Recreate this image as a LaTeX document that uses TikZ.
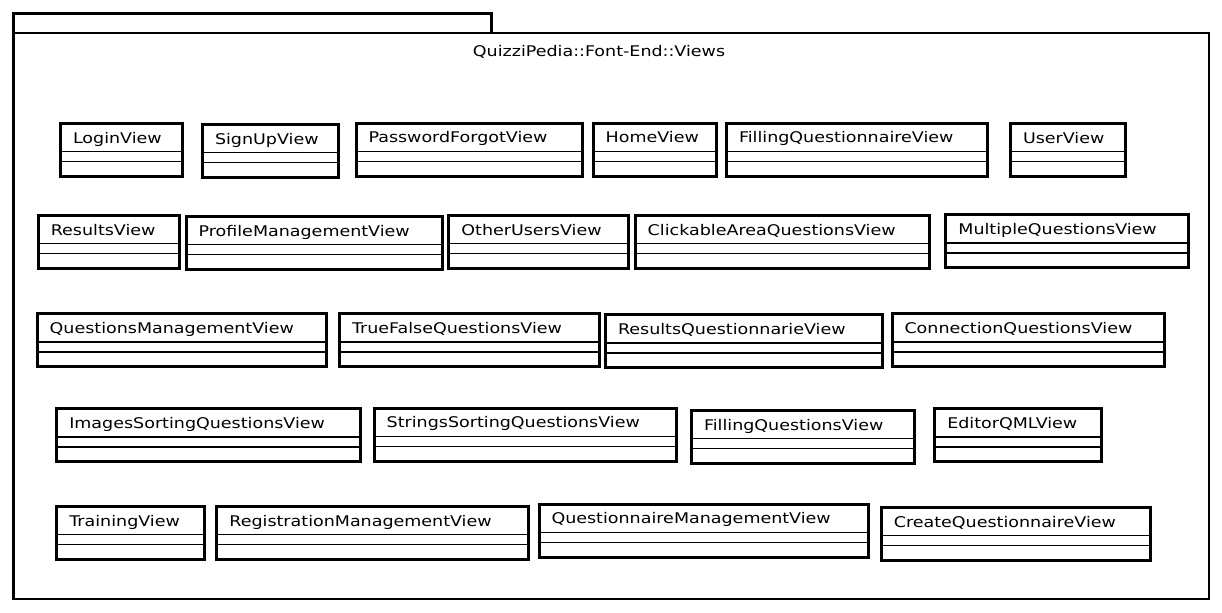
\documentclass[tikz,border=0pt]{standalone}
\usepackage{fontspec}
\setmainfont{DejaVu Sans}[FakeStretch=1.19]

\begin{document}
\begin{tikzpicture}[x=0.5pt,y=-0.5pt,
  every node/.style={font=\fontsize{7.35pt}{9pt}\selectfont},
  pkgline/.style={draw=black,line width=1.3pt},
  classbox/.style={draw=black,line width=1.5pt,anchor=north west,inner xsep=6.25pt,inner ysep=0pt,
    text height=9.75pt,text depth=16.75pt,align=left},
  compline/.style={draw=black,line width=0.7pt}]
\useasboundingbox (0,0) rectangle (1222,612);
% package frame
\draw [pkgline] (13.5,13.5) rectangle (491.5,33);
\draw [pkgline] (13.5,33) rectangle (1209,599);
\node [anchor=base] (title) at (599,56.7) {QuizziPedia::Font-End::Views};
% row 1
\node [classbox,text width=48.5pt] (loginview) at (59,122) {LoginView};
\node [classbox,text width=55.5pt] (signupview) at (201,123) {SignUpView};
\node [classbox,text width=100.5pt] (passwordview) at (354.5,121.7) {PasswordForgotView};
\node [classbox,text width=49pt] (homeview) at (591.7,121.7) {HomeView};
\node [classbox,text width=118pt] (fillingqview) at (725,121.7) {FillingQuestionnaireView};
\node [classbox,text width=45pt] (userview) at (1009,122) {UserView};
% row 2
\node [classbox,text width=58pt] (resultsview) at (36.8,214) {ResultsView};
\node [classbox,text width=115.5pt] (profileview) at (184.6,215) {ProfileManagementView};
\node [classbox,text width=77.5pt] (otherusersview) at (447.4,214) {OtherUsersView};
\node [classbox,text width=134.8pt] (clickableview) at (633.7,214) {ClickableAreaQuestionsView};
\node [classbox,text width=108.8pt] (multipleview) at (944.4,213.3) {MultipleQuestionsView};
% row 3
\node [classbox,text width=132pt] (questionsmgmtview) at (35.7,312.3) {QuestionsManagementView};
\node [classbox,text width=117.4pt] (truefalseview) at (338,312.3) {TrueFalseQuestionsView};
\node [classbox,text width=125.85pt] (resultsqview) at (604,313.3) {ResultsQuestionnarieView};
\node [classbox,text width=123.5pt] (connectionview) at (890.5,312.3) {ConnectionQuestionsView};
% row 4
\node [classbox,text width=139.2pt] (imagessortview) at (55.3,407.3) {ImagesSortingQuestionsView};
\node [classbox,text width=138.75pt] (stringssortview) at (372.7,406.7) {StringsSortingQuestionsView};
\node [classbox,text width=98.75pt] (fillingview) at (690,409) {FillingQuestionsView};
\node [classbox,text width=70.85pt] (editorview) at (933.3,407.3) {EditorQMLView};
% row 5
\node [classbox,text width=61.5pt] (trainingview) at (55.3,505) {TrainingView};
\node [classbox,text width=143.1pt] (registrationview) at (215.4,505) {RegistrationManagementView};
\node [classbox,text width=152.15pt] (questionnairemgmtview) at (537.5,502.7) {QuestionnaireManagementView};
\node [classbox,text width=121.9pt] (createqview) at (879.8,506) {CreateQuestionnaireView};
% compartments
\draw [compline] ([yshift=-14.75pt]loginview.north west) -- ([yshift=-14.75pt]loginview.north east) ([yshift=-19.75pt]loginview.north west) -- ([yshift=-19.75pt]loginview.north east);
\draw [compline] ([yshift=-14.75pt]signupview.north west) -- ([yshift=-14.75pt]signupview.north east) ([yshift=-19.75pt]signupview.north west) -- ([yshift=-19.75pt]signupview.north east);
\draw [compline] ([yshift=-14.75pt]passwordview.north west) -- ([yshift=-14.75pt]passwordview.north east) ([yshift=-19.75pt]passwordview.north west) -- ([yshift=-19.75pt]passwordview.north east);
\draw [compline] ([yshift=-14.75pt]homeview.north west) -- ([yshift=-14.75pt]homeview.north east) ([yshift=-19.75pt]homeview.north west) -- ([yshift=-19.75pt]homeview.north east);
\draw [compline] ([yshift=-14.75pt]fillingqview.north west) -- ([yshift=-14.75pt]fillingqview.north east) ([yshift=-19.75pt]fillingqview.north west) -- ([yshift=-19.75pt]fillingqview.north east);
\draw [compline] ([yshift=-14.75pt]userview.north west) -- ([yshift=-14.75pt]userview.north east) ([yshift=-19.75pt]userview.north west) -- ([yshift=-19.75pt]userview.north east);
\draw [compline] ([yshift=-14.75pt]resultsview.north west) -- ([yshift=-14.75pt]resultsview.north east) ([yshift=-19.75pt]resultsview.north west) -- ([yshift=-19.75pt]resultsview.north east);
\draw [compline] ([yshift=-14.75pt]profileview.north west) -- ([yshift=-14.75pt]profileview.north east) ([yshift=-19.75pt]profileview.north west) -- ([yshift=-19.75pt]profileview.north east);
\draw [compline] ([yshift=-14.75pt]otherusersview.north west) -- ([yshift=-14.75pt]otherusersview.north east) ([yshift=-19.75pt]otherusersview.north west) -- ([yshift=-19.75pt]otherusersview.north east);
\draw [compline] ([yshift=-14.75pt]clickableview.north west) -- ([yshift=-14.75pt]clickableview.north east) ([yshift=-19.75pt]clickableview.north west) -- ([yshift=-19.75pt]clickableview.north east);
\draw [compline] ([yshift=-14.75pt]multipleview.north west) -- ([yshift=-14.75pt]multipleview.north east) ([yshift=-19.75pt]multipleview.north west) -- ([yshift=-19.75pt]multipleview.north east);
\draw [compline] ([yshift=-14.75pt]questionsmgmtview.north west) -- ([yshift=-14.75pt]questionsmgmtview.north east) ([yshift=-19.75pt]questionsmgmtview.north west) -- ([yshift=-19.75pt]questionsmgmtview.north east);
\draw [compline] ([yshift=-14.75pt]truefalseview.north west) -- ([yshift=-14.75pt]truefalseview.north east) ([yshift=-19.75pt]truefalseview.north west) -- ([yshift=-19.75pt]truefalseview.north east);
\draw [compline] ([yshift=-14.75pt]resultsqview.north west) -- ([yshift=-14.75pt]resultsqview.north east) ([yshift=-19.75pt]resultsqview.north west) -- ([yshift=-19.75pt]resultsqview.north east);
\draw [compline] ([yshift=-14.75pt]connectionview.north west) -- ([yshift=-14.75pt]connectionview.north east) ([yshift=-19.75pt]connectionview.north west) -- ([yshift=-19.75pt]connectionview.north east);
\draw [compline] ([yshift=-14.75pt]imagessortview.north west) -- ([yshift=-14.75pt]imagessortview.north east) ([yshift=-19.75pt]imagessortview.north west) -- ([yshift=-19.75pt]imagessortview.north east);
\draw [compline] ([yshift=-14.75pt]stringssortview.north west) -- ([yshift=-14.75pt]stringssortview.north east) ([yshift=-19.75pt]stringssortview.north west) -- ([yshift=-19.75pt]stringssortview.north east);
\draw [compline] ([yshift=-14.75pt]fillingview.north west) -- ([yshift=-14.75pt]fillingview.north east) ([yshift=-19.75pt]fillingview.north west) -- ([yshift=-19.75pt]fillingview.north east);
\draw [compline] ([yshift=-14.75pt]editorview.north west) -- ([yshift=-14.75pt]editorview.north east) ([yshift=-19.75pt]editorview.north west) -- ([yshift=-19.75pt]editorview.north east);
\draw [compline] ([yshift=-14.75pt]trainingview.north west) -- ([yshift=-14.75pt]trainingview.north east) ([yshift=-19.75pt]trainingview.north west) -- ([yshift=-19.75pt]trainingview.north east);
\draw [compline] ([yshift=-14.75pt]registrationview.north west) -- ([yshift=-14.75pt]registrationview.north east) ([yshift=-19.75pt]registrationview.north west) -- ([yshift=-19.75pt]registrationview.north east);
\draw [compline] ([yshift=-14.75pt]questionnairemgmtview.north west) -- ([yshift=-14.75pt]questionnairemgmtview.north east) ([yshift=-19.75pt]questionnairemgmtview.north west) -- ([yshift=-19.75pt]questionnairemgmtview.north east);
\draw [compline] ([yshift=-14.75pt]createqview.north west) -- ([yshift=-14.75pt]createqview.north east) ([yshift=-19.75pt]createqview.north west) -- ([yshift=-19.75pt]createqview.north east);
\end{tikzpicture}
\end{document}
